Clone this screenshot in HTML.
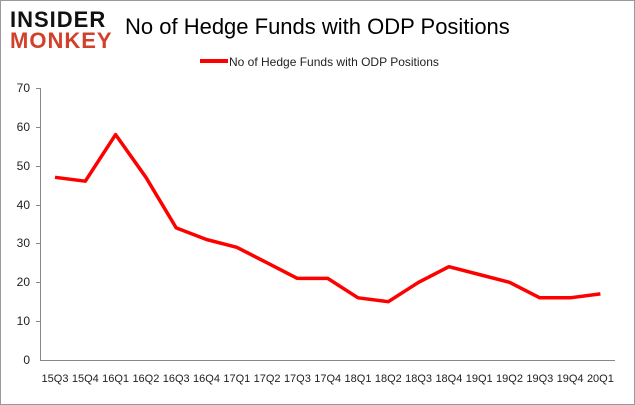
<!DOCTYPE html>
<html><head><style>body{margin:0;background:#fff}svg{display:block}</style></head><body>
<svg width="635" height="405" xmlns="http://www.w3.org/2000/svg" font-family="Liberation Sans, sans-serif">
<rect x="0.5" y="0.5" width="634" height="404" fill="#fff" stroke="#999"/>
<text x="10" y="27" font-size="22" font-weight="bold" fill="#111" letter-spacing="1">INSIDER</text>
<text x="10" y="48" font-size="22" font-weight="bold" fill="#d0402b" letter-spacing="1">MONKEY</text>
<text x="125" y="34" font-size="22" fill="#000">No of Hedge Funds with ODP Positions</text>
<line x1="200" y1="61" x2="228" y2="61" stroke="#f00" stroke-width="4"/>
<text x="229" y="66" font-size="12" fill="#222">No of Hedge Funds with ODP Positions</text>
<g stroke="#888" stroke-width="1">
<line x1="40.5" y1="88" x2="40.5" y2="360"/>
<line x1="40" y1="360.5" x2="615" y2="360.5"/>
<line x1="36" y1="88.5" x2="40" y2="88.5"/><line x1="36" y1="127.5" x2="40" y2="127.5"/><line x1="36" y1="166.5" x2="40" y2="166.5"/><line x1="36" y1="205.5" x2="40" y2="205.5"/><line x1="36" y1="243.5" x2="40" y2="243.5"/><line x1="36" y1="282.5" x2="40" y2="282.5"/><line x1="36" y1="321.5" x2="40" y2="321.5"/>
</g>
<g font-size="12" fill="#222" text-anchor="end">
<text x="30" y="92">70</text><text x="30" y="131">60</text><text x="30" y="170">50</text><text x="30" y="209">40</text><text x="30" y="247">30</text><text x="30" y="286">20</text><text x="30" y="325">10</text><text x="30" y="364">0</text>
</g>
<g font-size="11" fill="#222" text-anchor="middle">
<text x="55" y="382">15Q3</text><text x="85.3" y="382">15Q4</text><text x="115.6" y="382">16Q1</text><text x="145.9" y="382">16Q2</text><text x="176.2" y="382">16Q3</text><text x="206.5" y="382">16Q4</text><text x="236.8" y="382">17Q1</text><text x="267.1" y="382">17Q2</text><text x="297.4" y="382">17Q3</text><text x="327.7" y="382">17Q4</text><text x="358" y="382">18Q1</text><text x="388.3" y="382">18Q2</text><text x="418.6" y="382">18Q3</text><text x="448.9" y="382">18Q4</text><text x="479.2" y="382">19Q1</text><text x="509.5" y="382">19Q2</text><text x="539.8" y="382">19Q3</text><text x="570.1" y="382">19Q4</text><text x="600.4" y="382">20Q1</text>
</g>
<polyline fill="none" stroke="#f00" stroke-width="3.5" stroke-linejoin="round" points="55,177.3 85.3,181.2 115.6,134.6 145.9,177.3 176.2,227.9 206.5,239.5 236.8,247.3 267.1,262.8 297.4,278.4 327.7,278.4 358,297.8 388.3,301.7 418.6,282.3 448.9,266.7 479.2,274.5 509.5,282.3 539.8,297.8 570.1,297.8 600.4,293.9"/>
</svg>
</body></html>
